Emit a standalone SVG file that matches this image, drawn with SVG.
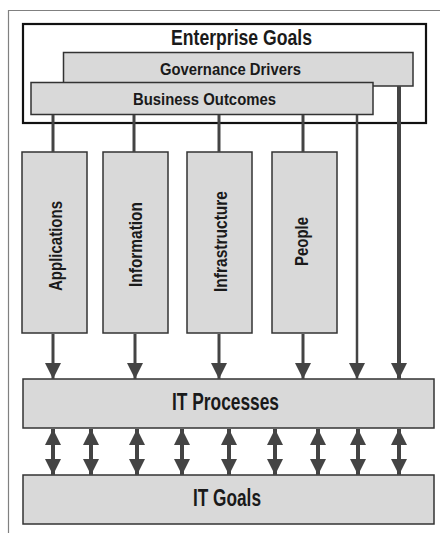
<svg xmlns="http://www.w3.org/2000/svg" width="440" height="535" viewBox="0 0 440 535">
  <style>
    .frame { fill: none; stroke: #808080; stroke-width: 1.2; }
    .outer { fill: #ffffff; stroke: #111111; stroke-width: 2.2; }
    .box { fill: #d9d9d9; stroke: #333333; stroke-width: 1.5; }
    .lbl { font-family: "Liberation Sans", Arial, sans-serif; font-weight: bold; fill: #1a1a1a; text-anchor: middle; }
    .conn { stroke: #444444; fill: none; }
  </style>
  <defs>
    <marker id="head" viewBox="0 0 16 16" refX="16" refY="8" markerWidth="16" markerHeight="16" markerUnits="userSpaceOnUse" orient="auto-start-reverse">
      <path d="M0,0 L16,8 L0,16 Z" fill="#444444"/>
    </marker>
  </defs>

  <!-- page frame -->
  <path class="frame" d="M8.5,533 V10.5 H440"/>

  <g id="enterprise-goals">
    <rect class="outer" x="23" y="24" width="403" height="99"/>
    <text class="lbl" x="241.5" y="45" font-size="21.5" textLength="141" lengthAdjust="spacingAndGlyphs">Enterprise Goals</text>
  </g>

  <g id="governance-drivers">
    <rect class="box" x="63.5" y="52.5" width="349.5" height="33.5"/>
    <text class="lbl" x="230.5" y="75" font-size="17" textLength="141" lengthAdjust="spacingAndGlyphs">Governance Drivers</text>
  </g>

  <g id="business-outcomes">
    <rect class="box" x="31" y="82.5" width="342" height="32"/>
    <text class="lbl" x="204.5" y="105" font-size="17" textLength="143" lengthAdjust="spacingAndGlyphs">Business Outcomes</text>
  </g>

  <g id="applications">
    <rect class="box" x="22" y="152" width="65" height="181"/>
    <text class="lbl" transform="translate(61.5,246) rotate(-90)" font-size="17.5" textLength="90" lengthAdjust="spacingAndGlyphs">Applications</text>
  </g>
  <g id="information">
    <rect class="box" x="103" y="152" width="65" height="181"/>
    <text class="lbl" transform="translate(141.5,244.5) rotate(-90)" font-size="17.5" textLength="85" lengthAdjust="spacingAndGlyphs">Information</text>
  </g>
  <g id="infrastructure">
    <rect class="box" x="187" y="152" width="65" height="181"/>
    <text class="lbl" transform="translate(226.5,241.5) rotate(-90)" font-size="17.5" textLength="101" lengthAdjust="spacingAndGlyphs">Infrastructure</text>
  </g>
  <g id="people">
    <rect class="box" x="272" y="152" width="65" height="181"/>
    <text class="lbl" transform="translate(308,241.5) rotate(-90)" font-size="17.5" textLength="49" lengthAdjust="spacingAndGlyphs">People</text>
  </g>

  <g id="it-processes">
    <rect class="box" x="23" y="379" width="411" height="49"/>
    <text class="lbl" x="225.5" y="410" font-size="24" textLength="107" lengthAdjust="spacingAndGlyphs">IT Processes</text>
  </g>

  <g id="it-goals">
    <rect class="box" x="23" y="475" width="411" height="49"/>
    <text class="lbl" x="227" y="506" font-size="23" textLength="68" lengthAdjust="spacingAndGlyphs">IT Goals</text>
  </g>

  <g id="connectors" class="conn">
    <!-- outcomes to each domain -->
    <g stroke-width="3">
      <line x1="53" y1="115" x2="53" y2="152"/>
      <line x1="134" y1="115" x2="134" y2="152"/>
      <line x1="219" y1="115" x2="219" y2="152"/>
      <line x1="303" y1="115" x2="303" y2="152"/>
    </g>
    <!-- domains feed IT processes -->
    <g stroke-width="3" marker-end="url(#head)">
      <line x1="53" y1="334" x2="53" y2="379"/>
      <line x1="135" y1="334" x2="135" y2="379"/>
      <line x1="219" y1="334" x2="219" y2="379"/>
      <line x1="303" y1="334" x2="303" y2="379"/>
    </g>
    <!-- direct feeds from outcomes and drivers -->
    <line x1="357" y1="115" x2="357" y2="379" stroke-width="2.5" marker-end="url(#head)"/>
    <line x1="399" y1="86" x2="399" y2="379" stroke-width="4" marker-end="url(#head)"/>
    <!-- processes <-> goals -->
    <g stroke-width="4" marker-start="url(#head)" marker-end="url(#head)">
      <line x1="53" y1="429" x2="53" y2="475"/>
      <line x1="91" y1="429" x2="91" y2="475"/>
      <line x1="137" y1="429" x2="137" y2="475"/>
      <line x1="182" y1="429" x2="182" y2="475"/>
      <line x1="229" y1="429" x2="229" y2="475"/>
      <line x1="275" y1="429" x2="275" y2="475"/>
      <line x1="318" y1="429" x2="318" y2="475"/>
      <line x1="358" y1="429" x2="358" y2="475"/>
      <line x1="399" y1="429" x2="399" y2="475"/>
    </g>
  </g>
</svg>
